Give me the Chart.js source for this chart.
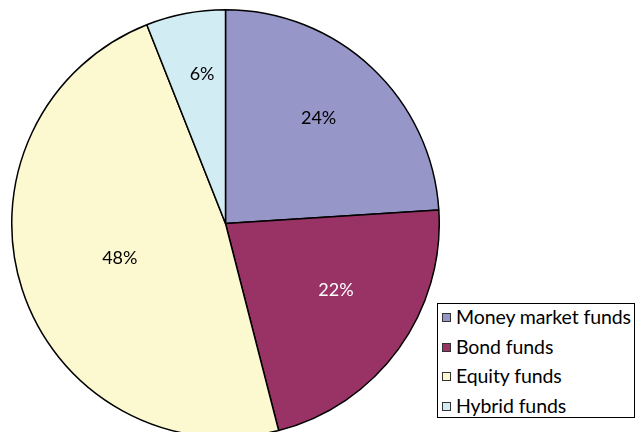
<!DOCTYPE html>
<html>
<head>
<meta charset="utf-8">
<script src="https://cdn.jsdelivr.net/npm/chart.js@4"></script>
<style>
  html, body { margin: 0; padding: 0; background: #fff; overflow: hidden; }
  #wrap { position: relative; width: 635px; height: 432px; }
  #pie { position: absolute; left: 11px; top: 9px; }
  #legend {
    position: absolute; left: 437px; top: 303px; width: 198px; height: 115px;
    border: 1px solid #000; background: #fff; box-sizing: border-box;
    font-family: Lato, "Open Sans", sans-serif; font-size: 19.5px; color: #000;
    padding: 0 0 0 4px;
  }
  .item { height: 29.6px; line-height: 26px; white-space: nowrap; letter-spacing: -0.1px; }
  .sw {
    display: inline-block; width: 7px; height: 7px; border: 1px solid #333;
    margin-right: 5px; vertical-align: 2px;
  }
</style>
</head>
<body>
<div id="wrap">
  <canvas id="pie" width="429" height="429"></canvas>
  <div id="legend"></div>
</div>
<script>
const categories = ["Money market funds", "Bond funds", "Equity funds", "Hybrid funds"];
const shares = [24, 22, 48, 6];
const sliceColors = ["#9696C8", "#993366", "#FCF8D0", "#D2ECF3"];
const labelColors = ["#000", "#fff", "#000", "#000"];
// how far out each percentage sits, as a share of the radius, plus a nudge
const labelRadius = [0.65, 0.61, 0.52, 0.71];
const labelDx = [-2, 5, 0, 5];
const labelDy = [-4, -10, 0, 0];

// percentage labels inside the slices
const sliceLabels = {
    id: 'sliceLabels',
    afterDatasetsDraw(chart) {
        const ctx = chart.ctx;
        const meta = chart.getDatasetMeta(0);
        ctx.save();
        ctx.font = '18px Lato, "Open Sans", sans-serif';
        ctx.textAlign = 'center';
        ctx.textBaseline = 'middle';
        meta.data.forEach((arc, i) => {
            const mid = (arc.startAngle + arc.endAngle) / 2;
            const r = arc.outerRadius * labelRadius[i];
            ctx.fillStyle = labelColors[i];
            ctx.fillText(shares[i] + '%', arc.x + Math.cos(mid) * r + labelDx[i], arc.y + Math.sin(mid) * r + labelDy[i]);
        });
        ctx.restore();
    }
};

new Chart(document.getElementById('pie').getContext('2d'), {
    type: 'pie',
    data: {
        labels: categories,
        datasets: [{
            data: shares,
            backgroundColor: sliceColors,
            borderColor: '#000',
            borderWidth: 1.5
        }]
    },
    options: {
        responsive: false,
        animation: false,
        layout: { padding: 0 },
        plugins: {
            legend: { display: false },
            tooltip: { enabled: false }
        }
    },
    plugins: [sliceLabels]
});

const legend = document.getElementById('legend');
categories.forEach((name, i) => {
    const row = document.createElement('div');
    row.className = 'item';
    const sw = document.createElement('span');
    sw.className = 'sw';
    sw.style.background = sliceColors[i];
    row.appendChild(sw);
    row.appendChild(document.createTextNode(name));
    legend.appendChild(row);
});
</script>
</body>
</html>
